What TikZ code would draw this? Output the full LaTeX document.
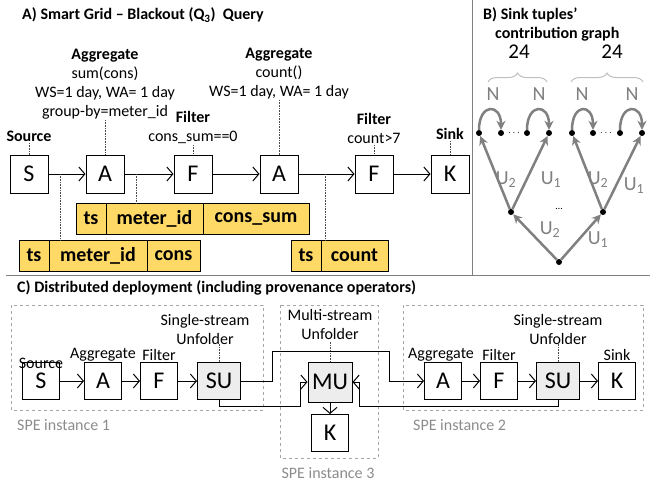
\documentclass[tikz,border=0pt]{standalone}
\usepackage{fontspec}
\setmainfont{Carlito}
\usetikzlibrary{arrows.meta,positioning,decorations.pathreplacing}
\definecolor{tupleyellow}{HTML}{FFD966}
\definecolor{linegray}{HTML}{808080}
\definecolor{bracegray}{HTML}{BFBFBF}
\definecolor{opfill}{HTML}{EDEDED}
\definecolor{instgray}{HTML}{A6A6A6}
\definecolor{labelgray}{HTML}{8C8C8C}

\begin{document}
\begin{tikzpicture}[x=1pt,y=-1pt,
  op/.style={draw, line width=1pt, minimum size=38pt, inner sep=0pt, font=\fontsize{24}{26}\selectfont},
  prov/.style={op, fill=opfill, minimum width=43pt},
  lbl/.style={align=center, inner sep=1pt, font=\fontsize{16}{19}\selectfont},
  ttl/.style={anchor=west, inner sep=0pt, font=\fontsize{16}{19}\selectfont\bfseries},
  cell/.style={draw, fill=tupleyellow, line width=0.8pt, outer sep=0pt, inner sep=0pt,
    minimum height=31pt, font=\fontsize{20}{22}\selectfont\bfseries},
  pin/.style={densely dotted, line width=0.6pt, black!70},
  flow/.style={line width=1pt, -{Straight Barb[length=6pt,width=14pt]}},
  dot/.style={circle, fill, inner sep=0pt, minimum size=6pt},
  edge/.style={linegray, line width=2.5pt, -{Stealth[length=9pt,width=9pt]}},
  glbl/.style={text=linegray, inner sep=0pt, font=\fontsize{20}{22}\selectfont},
  inst/.style={dashed, instgray, line width=0.8pt},
  instlbl/.style={text=labelgray, inner sep=0pt, font=\fontsize{16}{19}\selectfont}]
  \useasboundingbox (0,0) rectangle (653,482);

  % A) query
  \node[ttl] (titleA) at (22,15) {A) Smart Grid -- Blackout (Q\textsubscript{3})\ \ Query};
  \node[op] (src) at (29,174) {S};
  \node[op] (agg1) at (105,174) {A};
  \node[op] (fil1) at (193,174) {F};
  \node[op] (agg2) at (279,174) {A};
  \node[op] (fil2) at (374,174) {F};
  \node[op] (snk) at (450,174) {K};
  \draw[flow] (src) -- (agg1);
  \draw[flow] (agg1) -- (fil1);
  \draw[flow] (fil1) -- (agg2);
  \draw[flow] (agg2) -- (fil2);
  \draw[flow] (fil2) -- (snk);

  \node[lbl, anchor=south] (srclbl) at (29,143) {\textbf{Source}};
  \node[lbl, anchor=south] (agg1lbl) at (105,120)
    {\textbf{Aggregate}\\sum(cons)\\WS=1 day, WA= 1 day\\group-by=meter\_id};
  \node[lbl, anchor=south] (fil1lbl) at (193,145) {\textbf{Filter}\\cons\_sum==0};
  \node[lbl, anchor=south] (agg2lbl) at (279,100)
    {\textbf{Aggregate}\\count()\\WS=1 day, WA= 1 day};
  \node[lbl, anchor=south] (fil2lbl) at (374,145) {\textbf{Filter}\\count>7};
  \node[lbl, anchor=south] (snklbl) at (450,141) {\textbf{Sink}};
  \draw[pin] (srclbl) -- (src);
  \draw[pin] (agg1lbl) -- (agg1);
  \draw[pin] (fil1lbl) -- (fil1);
  \draw[pin] (agg2lbl) -- (agg2);
  \draw[pin] (fil2lbl) -- (fil2);
  \draw[pin] (snklbl) -- (snk);

  % tuple schemas
  \node[cell, minimum width=30pt, anchor=north west] (ts1) at (76,203) {ts};
  \node[cell, minimum width=97pt, right=0pt of ts1] (mid1) {meter\_id};
  \node[cell, minimum width=106pt, right=0pt of mid1] (sum1) {cons\_sum};
  \node[cell, minimum width=30pt, anchor=north west] (ts2) at (19,240) {ts};
  \node[cell, minimum width=98pt, right=0pt of ts2] (mid2) {meter\_id};
  \node[cell, minimum width=53pt, right=0pt of mid2] (cons2) {cons};
  \node[cell, minimum width=30pt, anchor=north west] (ts3) at (291,240) {ts};
  \node[cell, minimum width=67pt, right=0pt of ts3] (cnt3) {count};
  \draw[pin] (60,174) -- (60,174 |- mid2.north);
  \draw[pin] (136,174) -- (136,174 |- mid1.north);
  \draw[pin] (325,174) -- (325,174 |- ts3.north);

  \draw[linegray, line width=1pt] (6,275) -- (650,275);
  \draw[linegray, line width=1pt] (472,0) -- (472,275);

  % B) contribution graph
  \node[ttl, anchor=north west, align=left] (titleB) at (483,7)
    {B) Sink tuples’\\\hspace*{12pt}contribution graph};
  \node[font=\fontsize{21}{23}\selectfont] (cnt1) at (519,52) {24};
  \node[font=\fontsize{21}{23}\selectfont] (cnt2) at (612,52) {24};
  \draw[bracegray, line width=1pt, decorate, decoration={brace, amplitude=9pt}] (488,82) -- (547,82);
  \draw[bracegray, line width=1pt, decorate, decoration={brace, amplitude=9pt}] (571,82) -- (643,82);
  \node[dot] (b1) at (479,133) {};
  \node[dot] (b2) at (501,133) {};
  \node[dot] (b3) at (527,133) {};
  \node[dot] (b4) at (549,133) {};
  \node[dot] (b5) at (572,133) {};
  \node[dot] (b6) at (593,133) {};
  \node[dot] (b7) at (620,133) {};
  \node[dot] (b8) at (642,133) {};
  \node (bdots1) at (514,133) {$\cdots$};
  \node (bdots2) at (606,133) {$\cdots$};
  \node[dot] (m1) at (511,212) {};
  \node[dot] (m2) at (603,212) {};
  \node[dot] (root) at (559,262) {};
  \node[anchor=base] (mdots) at (559,209) {\dots};
  \draw[edge] (b1) .. controls +(0,-30) and +(0,-30) .. (b2);
  \draw[edge] (b3) .. controls +(0,-30) and +(0,-30) .. (b4);
  \draw[edge] (b5) .. controls +(0,-30) and +(0,-30) .. (b6);
  \draw[edge] (b7) .. controls +(0,-30) and +(0,-30) .. (b8);
  \node[glbl] (n1) at (493,94) {N};
  \node[glbl] (n2) at (539,94) {N};
  \node[glbl] (n3) at (582,94) {N};
  \node[glbl] (n4) at (632,94) {N};
  \draw[edge] (root) -- (m1);
  \draw[edge] (root) -- (m2);
  \draw[edge] (m1) -- (b1);
  \draw[edge] (m1) -- (b4);
  \draw[edge] (m2) -- (b5);
  \draw[edge] (m2) -- (b8);
  \node[glbl] (u1) at (550,230) {U\textsubscript{2}};
  \node[glbl] (u2) at (598,240) {U\textsubscript{1}};
  \node[glbl] (u3) at (506,180) {U\textsubscript{2}};
  \node[glbl] (u4) at (551,180) {U\textsubscript{1}};
  \node[glbl] (u5) at (598,180) {U\textsubscript{2}};
  \node[glbl] (u6) at (634,186) {U\textsubscript{1}};

  % C) deployment
  \node[ttl] (titleC) at (17,288) {C) Distributed deployment (including provenance operators)};
  \draw[inst] (11,305) rectangle (263,410);
  \draw[inst] (280,305) rectangle (378,458);
  \draw[inst] (403,305) rectangle (643,410);
  \node[instlbl, anchor=west] (inst1) at (17,425) {SPE instance 1};
  \node[instlbl] (inst3) at (328,473) {SPE instance 3};
  \node[instlbl, anchor=west] (inst2) at (413,425) {SPE instance 2};

  \node[op, minimum size=37pt] (csrc) at (41,381) {S};
  \node[op, minimum size=37pt] (cagg1) at (103,381) {A};
  \node[op, minimum size=37pt] (cfil1) at (159,381) {F};
  \node[prov, minimum height=37pt] (su1) at (219,381) {SU};
  \node[prov, minimum height=40pt, minimum width=44pt] (mu) at (330,382) {MU};
  \node[op, minimum size=37pt] (csnk3) at (330,433) {K};
  \node[op, minimum size=37pt] (cagg2) at (443,381) {A};
  \node[op, minimum size=37pt] (cfil2) at (499,381) {F};
  \node[prov, minimum height=37pt] (su2) at (558,381) {SU};
  \node[op, minimum size=37pt] (csnk2) at (617,381) {K};

  \node[lbl] (csrclbl) at (41,363) {Source};
  \node[lbl] (cagg1lbl) at (103,355) {Aggregate};
  \node[lbl] (cfil1lbl) at (159,355) {Filter};
  \node[lbl, anchor=south] (su1lbl) at (205,346) {Single-stream\\Unfolder};
  \node[lbl, anchor=south] (mulbl) at (330,341) {Multi-stream\\Unfolder};
  \node[lbl] (cagg2lbl) at (441,355) {Aggregate};
  \node[lbl] (cfil2lbl) at (499,355) {Filter};
  \node[lbl, anchor=south] (su2lbl) at (558,346) {Single-stream\\Unfolder};
  \node[lbl] (csnk2lbl) at (617,355) {Sink};
  \draw[pin] (su1.north) -- ++(0,-18);
  \draw[pin] (mu.north) -- (mulbl.south -| mu.north);
  \draw[pin] (su2.north) -- ++(0,-18);

  \draw[flow] (csrc) -- (cagg1);
  \draw[flow] (cagg1) -- (cfil1);
  \draw[flow] (cfil1) -- (su1);
  \draw[flow] (su1.east) -| (272,351) -| (389,381) -- (cagg2.west);
  \draw[flow] (su1.south) |- (300,406) |- (mu.west);
  \draw[flow] (su2.south) |- (359,406) |- (mu.east);
  \draw[flow] (mu) -- (csnk3);
  \draw[flow] (cagg2) -- (cfil2);
  \draw[flow] (cfil2) -- (su2);
  \draw[flow] (su2) -- (csnk2);
\end{tikzpicture}
\end{document}
